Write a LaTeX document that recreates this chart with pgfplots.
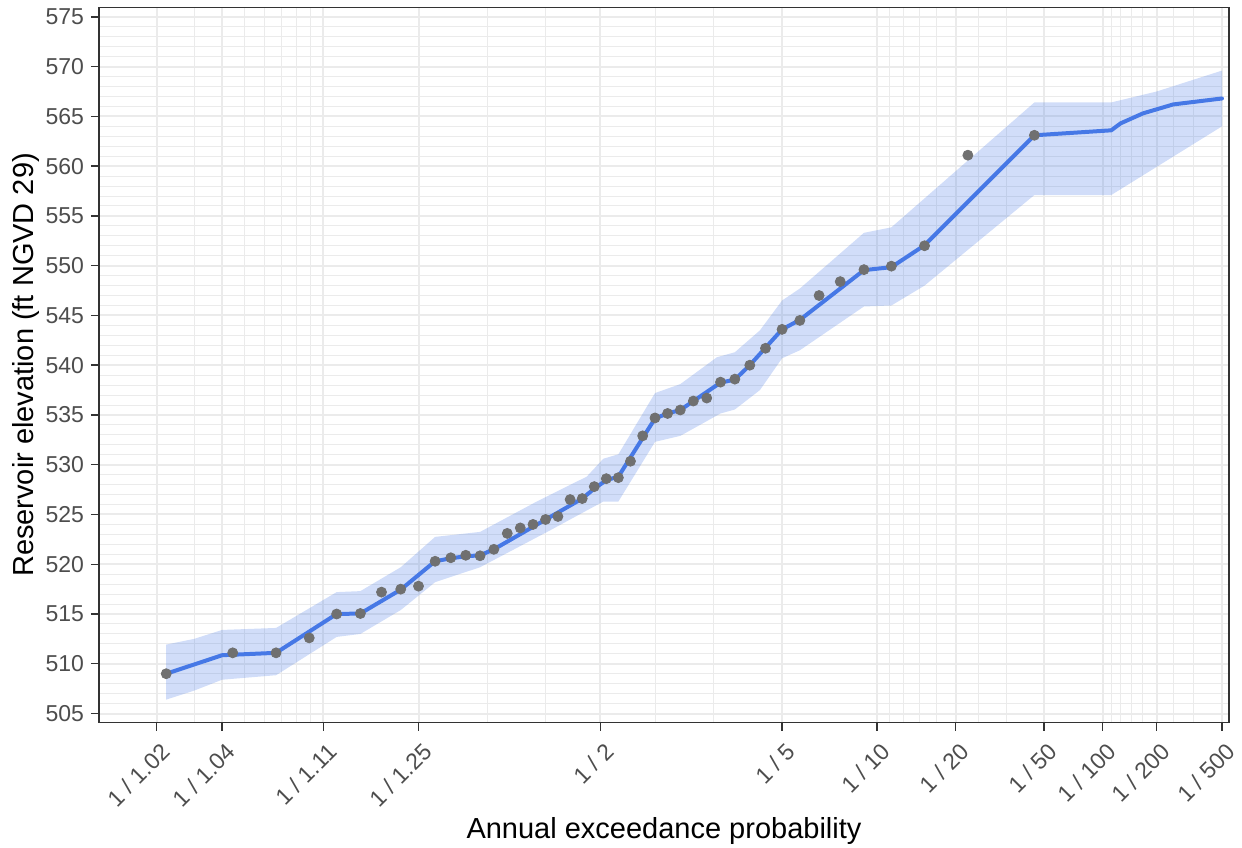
\documentclass[border=0pt]{standalone}
\usepackage{fontspec}
\setmainfont{Liberation Sans}
\usepackage{pgfplots}
\usepackage{pgfplotstable}
\pgfplotsset{compat=1.18}
\usepgfplotslibrary{fillbetween}
\definecolor{fitblue}{RGB}{70,120,230}
\definecolor{gridgray}{RGB}{235,235,235}
\definecolor{ticktext}{RGB}{77,77,77}
\definecolor{framegray}{RGB}{51,51,51}
\definecolor{ptgray}{RGB}{112,112,112}

\pgfplotstableread{
x y
-2.0096 509.0
-1.7017 511.1
-1.5011 511.1
-1.3475 512.6
-1.2206 515.0
-1.1108 515.05
-1.0129 517.2
-0.9238 517.5
-0.8416 517.8
-0.7647 520.3
-0.6921 520.65
-0.6229 520.9
-0.5566 520.85
-0.4927 521.5
-0.4307 523.1
-0.3704 523.65
-0.3115 524.0
-0.2533 524.5
-0.1962 524.8
-0.1397 526.5
-0.0836 526.6
-0.0279 527.8
0.0279 528.6
0.0836 528.7
0.1397 530.35
0.1962 532.9
0.2533 534.7
0.3115 535.15
0.3704 535.5
0.4307 536.4
0.4927 536.7
0.5566 538.3
0.6229 538.6
0.6921 540.0
0.7647 541.7
0.8416 543.6
0.9238 544.5
1.0129 547.0
1.1108 548.4
1.2206 549.6
1.3475 549.95
1.5011 552.0
1.7017 561.1
2.0096 563.1
}\ptdata

\pgfplotstableread{
x y
-2.0096 509.0
-1.7507 510.86
-1.5011 511.1
-1.2206 515.0
-1.1108 515.05
-0.9238 517.45
-0.7647 520.3
-0.6921 520.6
-0.6229 520.8
-0.5566 520.9
-0.4927 521.5
-0.0836 526.6
-0.0279 527.6
0.0279 528.45
0.0836 528.8
0.2533 534.65
0.3115 535.15
0.3704 535.5
0.5566 538.25
0.6229 538.55
0.6921 540.0
0.7647 541.75
0.8416 543.6
0.9238 544.55
1.2206 549.55
1.3475 549.85
1.5011 552.05
2.0096 563.1
2.3656 563.6
2.4089 564.3
2.5121 565.3
2.6521 566.2
2.8782 566.8
}\fitdata

\pgfplotstableread{
x y
-2.0096 511.93
-1.8808 512.5
-1.7507 513.4
-1.5011 513.6
-1.2206 517.2
-1.1108 517.3
-0.9238 519.7
-0.7647 522.75
-0.5566 523.25
-0.2944 526.3
-0.0630 528.8
0.0139 530.6
0.0836 531.05
0.2533 537.2
0.3704 538.1
0.5400 540.8
0.6229 541.3
0.7390 543.5
0.8416 546.5
0.9238 547.7
1.2206 553.3
1.3475 553.85
2.0096 566.4
2.3656 566.4
2.5758 567.5
2.8782 569.6
}\ribhi

\pgfplotstableread{
x y
-2.0096 506.4
-1.8808 507.3
-1.7507 508.4
-1.5011 508.85
-1.2206 512.7
-1.1108 513.0
-0.9238 515.4
-0.7647 518.2
-0.5566 519.7
-0.2329 523.4
-0.0630 525.4
0.0139 526.3
0.0836 526.3
0.2533 532.3
0.3704 532.9
0.5566 535.15
0.6229 535.55
0.7390 537.5
0.8416 540.7
0.9238 541.5
1.2206 545.9
1.3475 546.0
1.5011 548.0
2.0096 557.1
2.3656 557.1
2.8782 564.0
}\riblo

\begin{document}
\begin{tikzpicture}
\begin{axis}[
  anchor=south west, at={(0,0)},
  scale only axis, width=565bp, height=357.5bp,
  xmin=-2.3208, xmax=2.9106, ymin=504.1, ymax=575.94,
  axis line style={framegray, line width=0.7bp},
  tick align=outside, xtick pos=bottom, ytick pos=left,
  major tick length=4bp, minor tick length=0pt,
  tick style={framegray, line width=0.7bp},
  grid=both,
  major grid style={gridgray, line width=1bp},
  minor grid style={gridgray, line width=0.5bp},
  xtick={-2.0537,-1.7507,-1.2816,-0.8416,0,0.8416,1.2816,1.6449,2.0537,2.3263,2.5758,2.8782},
  xticklabels={1 / 1.02, 1 / 1.04, 1 / 1.11, 1 / 1.25, 1 / 2, 1 / 5, 1 / 10, 1 / 20, 1 / 50, 1 / 100, 1 / 200, 1 / 500},
  minor xtick={-1.8808,-1.6449,-1.5548,-1.4758,-1.4051,-1.3408,-0.5244,-0.2533,0.2533,0.5244,1.3408,1.4051,1.4758,1.5548,1.7507,1.8808,2.3656,2.4089,2.4573,2.5121,2.6521,2.7478},
  ytick={505,510,...,575},
  minor y tick num=4,
  /pgf/number format/assume math mode=true,
  ticklabel style={font=\fontsize{11.5bp}{13bp}\selectfont, text=ticktext},
  xticklabel style={xshift=1.5bp, yshift=-5.5bp, rotate=45, anchor=north east, inner sep=0pt},
  label style={font=\fontsize{14.5bp}{17bp}\selectfont, text=black},
  xlabel={Annual exceedance probability},
  ylabel={Reservoir elevation (ft NGVD 29)},
  xlabel style={at={(axis description cs:0.5,0)}, anchor=base, yshift=-57.75bp},
  ylabel style={at={(axis description cs:0,0.5)}, anchor=base, yshift=33bp},
]
\addplot[only marks, color=ptgray, mark=*, mark size=2.5bp, mark options={draw=none, fill=ptgray}] table[x=x,y=y] {\ptdata};
\addplot[name path=hi, draw=none, forget plot] table[x=x,y=y] {\ribhi};
\addplot[name path=lo, draw=none, forget plot] table[x=x,y=y] {\riblo};
\addplot[fill=fitblue, fill opacity=0.25, draw=none] fill between[of=hi and lo];
\addplot[fitblue, line width=2bp, line join=round, line cap=round] table[x=x,y=y] {\fitdata};
\end{axis}
\pgfresetboundingbox
\path (-49.5bp,-62.75bp) rectangle (571.5bp,361.25bp);
\end{tikzpicture}
\end{document}
